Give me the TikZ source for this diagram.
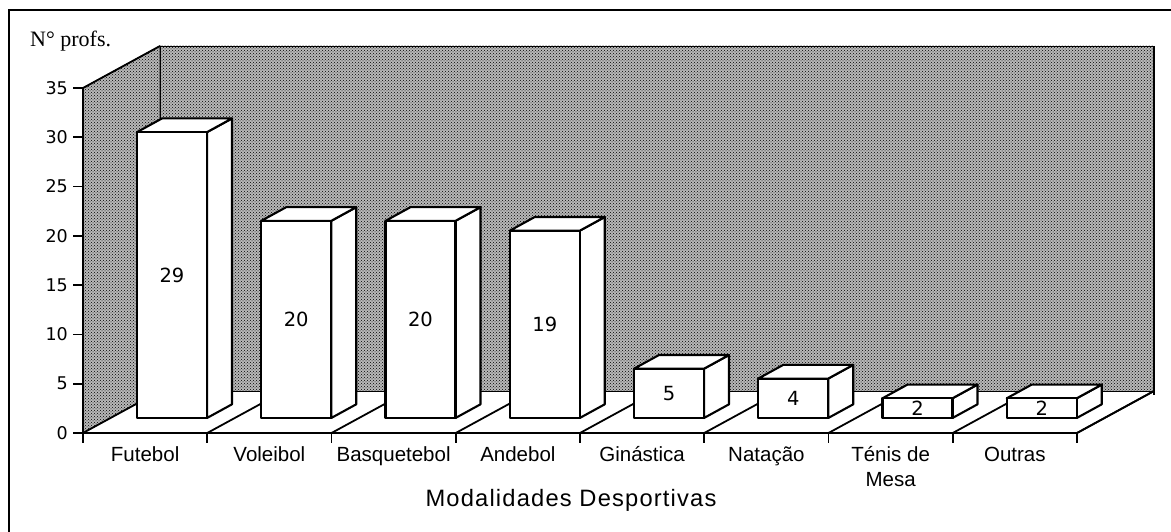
\documentclass[tikz,border=0pt]{standalone}
\usepackage{fontspec}
\setmainfont{Liberation Sans}
\newfontfamily\timesfont{Liberation Serif}
\newfontfamily\numfont{DejaVu Sans}
\newfontfamily\titlefont[LetterSpace=5]{Liberation Sans}
\usetikzlibrary{patterns}
\tikzset{
  wallfill/.style={fill=black!28},
  wall/.style={pattern=crosshatch dots, pattern color=black, draw=black, line width=0.9pt},
  floorline/.style={draw=black, line width=1.8pt},
  barface/.style={fill=white, draw=black, line width=2.1pt, line join=round},
  axisline/.style={draw=black, line width=1.6pt},
  ticklbl/.style={font=\numfont\fontsize{17.5}{20}\selectfont, anchor=east, inner sep=0pt},
  barlbl/.style={font=\numfont\fontsize{19.5}{22}\selectfont, inner sep=0pt},
  catlbl/.style={font=\fontsize{20.5}{24.5}\selectfont, anchor=base, inner sep=0pt, align=center},
}
\begin{document}
\begin{tikzpicture}[x=1pt, y=-1pt]
\useasboundingbox (0,0) rectangle (1171,532);
% outer frame (left and top only visible)
\draw[line width=1.4pt] (9,532) -- (9,10) -- (1171,10);
% walls
\path[wallfill] (83,433) -- (83,88) -- (160,46) -- (160,391) -- cycle;
\path[wallfill] (160,46) rectangle (1154,391);
\path[wall] (83,433) -- (83,88) -- (160,46) -- (160,391) -- cycle;
\path[wall] (160,46) rectangle (1154,391);
\draw[line width=1.8pt] (83,88) -- (160,46);
\draw[line width=1.8pt] (1154,46) -- (1154,395);
% floor
\path[fill=white] (83,433) -- (160,391) -- (1154,391) -- (1077,433) -- cycle;
\draw[floorline] (83,433) -- (160,391);
\draw[floorline] (1077,433) -- (1154,391);
\draw[line width=1pt] (160,391) -- (1154,391);
\foreach \i in {1,...,8}{
  \pgfmathsetmacro{\xx}{83+124.25*\i}
  \draw[floorline] (\xx,433) -- ({\xx+77},391);
}
% bars
\foreach \v [count=\i from 0] in {29,20,20,19,5,4,2,2}{
  \pgfmathsetmacro{\L}{83+124.25*\i+54}
  \pgfmathsetmacro{\R}{\L+70}
  \pgfmathsetmacro{\T}{418-\v*9.857}
  \draw[barface] (\R,418) -- ({\R+25},404.3) -- ({\R+25},{\T-13.7}) -- (\R,\T) -- cycle;
  \draw[barface] (\L,\T) -- ({\L+25},{\T-13.7}) -- ({\R+25},{\T-13.7}) -- (\R,\T) -- cycle;
  \draw[barface] (\L,418) rectangle (\R,\T);
  \node[barlbl] (bar\i) at ({(\L+\R)/2},{(418+\T)/2}) {\v};
}
% axes
\draw[axisline] (83,88) -- (83,443);
\draw[axisline] (73,433) -- (1077,433);
\foreach \k in {0,...,7}{
  \pgfmathsetmacro{\yy}{433-\k*5*9.857}
  \pgfmathtruncatemacro{\lab}{\k*5}
  \draw[axisline] (73,\yy) -- (83,\yy);
  \node[ticklbl] (tick\k) at (68,\yy) {\lab};
}
\foreach \i in {0,...,8}{
  \pgfmathsetmacro{\xx}{83+124.25*\i}
  \draw[axisline] (\xx,433) -- (\xx,443);
}
% category labels
\foreach \c [count=\i from 0] in {Futebol,Voleibol,Basquetebol,Andebol,Ginástica,Natação}{
  \node[catlbl] (cat\i) at ({83+124.25*(\i+0.5)},461.5) {\c};
}
\node[catlbl] (cat6) at ({83+124.25*6.5},486) {Ténis de\\Mesa};
\node[catlbl] (cat7) at ({83+124.25*7.5},461.5) {Outras};
\node[font=\timesfont\fontsize{22}{26}\selectfont, anchor=base west, inner sep=0pt] (ylab) at (30,47) {N° profs.};
\node[font=\titlefont\fontsize{23.7}{28}\selectfont, anchor=base, inner sep=0pt] (xlab) at (571,506.7) {Modalidades Desportivas};
\end{tikzpicture}
\end{document}
